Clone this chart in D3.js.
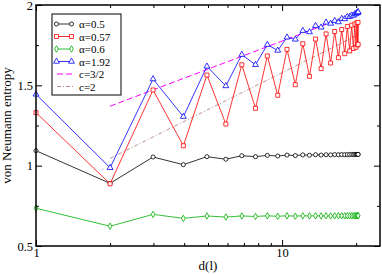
<!DOCTYPE html>
<html>
<head>
<meta charset="utf-8">
<script src="https://cdn.jsdelivr.net/npm/d3@7"></script>
<style>
  body { margin: 0; background: #fff; }
  svg { display: block; }
  text { font-family: "Liberation Serif", "DejaVu Serif", serif; fill: #000; }
  .axis text { font-size: 12.5px; }
  .axis line { stroke: #000; stroke-width: 1px; }
  .label { font-size: 13px; }
  .legend text { font-size: 11px; }
</style>
</head>
<body>
<script>
const dl = [1.00, 2.00, 2.99, 3.97, 4.95, 5.91, 6.86, 7.80, 8.71, 9.60,
    10.47, 11.32, 12.14, 12.92, 13.68, 14.41, 15.09, 15.75, 16.36, 16.94,
    17.47, 17.97, 18.42, 18.82, 19.18, 19.50, 19.76, 19.98, 20.15, 20.27,
    20.35, 20.37]

const s05 = [1.093, 0.890, 1.054, 1.006, 1.056, 1.040, 1.062, 1.056, 1.064, 1.060,
    1.066, 1.063, 1.067, 1.065, 1.068, 1.066, 1.068, 1.067, 1.069, 1.068,
    1.069, 1.068, 1.069, 1.069, 1.070, 1.069, 1.070, 1.070, 1.070, 1.070,
    1.070, 1.070]

const s057 = [1.330, 0.887, 1.471, 1.124, 1.564, 1.259, 1.628, 1.357, 1.683, 1.438,
    1.724, 1.504, 1.759, 1.556, 1.788, 1.604, 1.820, 1.639, 1.835, 1.672,
    1.847, 1.697, 1.866, 1.714, 1.874, 1.729, 1.882, 1.737, 1.890, 1.751,
    1.892, 1.755]

const s06 = [0.735, 0.623, 0.697, 0.672, 0.687, 0.680, 0.687, 0.684, 0.688, 0.685,
    0.688, 0.686, 0.688, 0.687, 0.688, 0.687, 0.688, 0.687, 0.688, 0.688,
    0.688, 0.688, 0.688, 0.688, 0.688, 0.688, 0.688, 0.688, 0.688, 0.688,
    0.688, 0.688]

const s192 = [1.444, 0.987, 1.539, 1.305, 1.618, 1.496, 1.691, 1.628, 1.753, 1.717,
    1.799, 1.786, 1.840, 1.832, 1.871, 1.861, 1.892, 1.885, 1.902, 1.894,
    1.915, 1.913, 1.927, 1.927, 1.936, 1.935, 1.944, 1.944, 1.952, 1.952,
    1.956, 1.956]

const fitX = [2, 20.37]
const fit32 = [1.37, 1.955]
const fit2 = [1.045, 1.815]

const seriesNames = ['α=0.5', 'α=0.57', 'α=0.6', 'α=1.92']
const fitNames = ['c=3/2', 'c=2']

const xTicks = [1, 10]
const xMinors = [2, 3, 4, 5, 6, 7, 8, 9, 20]
const yTicks = [0.5, 1, 1.5, 2]
const yMinors = [0.75, 1.25, 1.75]

const margin = { top: 5, right: 2, bottom: 29, left: 36 },
    width = 382 - margin.left - margin.right,
    height = 275 - margin.top - margin.bottom

const svg = d3.select('body').append('svg')
    .attr('width', 382)
    .attr('height', 275)
    .append('g')
    .attr('transform', `translate(${margin.left},${margin.top})`)

const x = d3.scaleLog().domain([1, 25]).range([0, width])
const y = d3.scaleLinear().domain([0.5, 2]).range([height, 0])

// axes, ticks inward on all four sides
const ax = svg.append('g').attr('class', 'axis')
ax.append('g').attr('transform', `translate(0,${height})`)
    .call(d3.axisBottom(x).tickValues(xTicks).tickSize(-6).tickPadding(2).tickFormat(d => d))
ax.append('g').attr('transform', `translate(0,${height})`)
    .call(d3.axisBottom(x).tickValues(xMinors).tickSize(-3).tickFormat(() => ''))
ax.append('g')
    .call(d3.axisTop(x).tickValues(xTicks).tickSize(-6).tickFormat(() => ''))
ax.append('g')
    .call(d3.axisTop(x).tickValues(xMinors).tickSize(-3).tickFormat(() => ''))
ax.append('g')
    .call(d3.axisLeft(y).tickValues(yTicks).tickSize(-6).tickPadding(3).tickFormat(d => d))
ax.append('g')
    .call(d3.axisLeft(y).tickValues(yMinors).tickSize(-3).tickFormat(() => ''))
ax.append('g').attr('transform', `translate(${width},0)`)
    .call(d3.axisRight(y).tickValues(yTicks).tickSize(-6).tickFormat(() => ''))
ax.append('g').attr('transform', `translate(${width},0)`)
    .call(d3.axisRight(y).tickValues(yMinors).tickSize(-3).tickFormat(() => ''))
ax.selectAll('.domain').remove()
ax.selectAll('text').attr('font-family', null).attr('font-size', null)
ax.selectAll('text').filter(d => d === 2).attr('dy', '0.36em')

svg.append('text')
    .attr('class', 'label')
    .attr('text-anchor', 'middle')
    .attr('transform', 'rotate(-90)')
    .attr('x', -height / 2)
    .attr('y', -25)
    .text('von Neumann entropy')
svg.append('text')
    .attr('class', 'label')
    .attr('text-anchor', 'middle')
    .attr('x', width / 2)
    .attr('y', height + 24)
    .text('d(l)')

// fitted lines
const fitLine = d3.line().x(d => x(d[0])).y(d => y(d[1]))
svg.append('path')
    .datum(fitX.map((v, i) => [v, fit32[i]]))
    .attr('d', fitLine)
    .attr('fill', 'none')
    .attr('stroke', '#ff00ff')
    .attr('stroke-dasharray', '6,3')
svg.append('path')
    .datum(fitX.map((v, i) => [v, fit2[i]]))
    .attr('d', fitLine)
    .attr('fill', 'none')
    .attr('stroke', '#bc8f8f')
    .attr('stroke-dasharray', '4,2,1,2')

// data series
const colors = ['#000000', '#ff0000', '#00b000', '#0000ff']
const shapes = [d3.symbolCircle, d3.symbolSquare, d3.symbolDiamond, d3.symbolTriangle]
const sizes = [13, 16, 12, 15]
const series = [s05, s057, s06, s192]

const line = d3.line().x(d => x(d[0])).y(d => y(d[1]))
const l = svg.append('g').attr('class', 'line-total')

series.map((s, i) => {
    const data = dl.map((d, j) => [d, s[j]])
    l.append('path')
        .datum(data)
        .attr('d', line)
        .attr('fill', 'none')
        .attr('stroke', colors[i])
        .attr('stroke-width', 0.8)
    l.selectAll(`.sym-${i}`).data(data)
        .enter().append('path')
        .attr('class', `sym-${i}`)
        .attr('transform', d => `translate(${x(d[0])},${y(d[1])})`)
        .attr('d', d3.symbol().type(shapes[i]).size(sizes[i]))
        .attr('fill', '#fff')
        .attr('stroke', colors[i])
        .attr('stroke-width', 0.8)
})

// frame
svg.append('rect')
    .attr('width', width)
    .attr('height', height)
    .attr('fill', 'none')
    .attr('stroke', '#000')
    .attr('stroke-width', 1.5)

// legend
const lg = svg.append('g').attr('class', 'legend').attr('transform', `translate(${52 - margin.left},${14 - margin.top})`)
lg.append('rect')
    .attr('width', 69)
    .attr('height', 81)
    .attr('fill', '#fff')
    .attr('stroke', '#000')
    .attr('stroke-width', 1)

const rowH = 12.5
seriesNames.map((str, i) => {
    const cy = 10 + i * rowH
    lg.append('line')
        .attr('x1', 4).attr('x2', 20)
        .attr('y1', cy).attr('y2', cy)
        .attr('stroke', colors[i])
        .attr('stroke-width', 0.8)
    ;[4.5, 19.5].map(sx => {
        lg.append('path')
            .attr('transform', `translate(${sx},${cy})`)
            .attr('d', d3.symbol().type(shapes[i]).size(sizes[i]))
            .attr('fill', '#fff')
            .attr('stroke', colors[i])
            .attr('stroke-width', 0.8)
    })
    lg.append('text')
        .attr('x', 27)
        .attr('y', cy + 4)
        .text(str)
})
fitNames.map((str, i) => {
    const cy = 10 + (i + 4) * rowH
    lg.append('line')
        .attr('x1', 5).attr('x2', 22)
        .attr('y1', cy).attr('y2', cy)
        .attr('stroke', i === 0 ? '#ff00ff' : '#bc8f8f')
        .attr('stroke-dasharray', i === 0 ? '6,3' : '4,2,1,2')
    lg.append('text')
        .attr('x', 27)
        .attr('y', cy + 4)
        .text(str)
})
</script>
</body>
</html>
